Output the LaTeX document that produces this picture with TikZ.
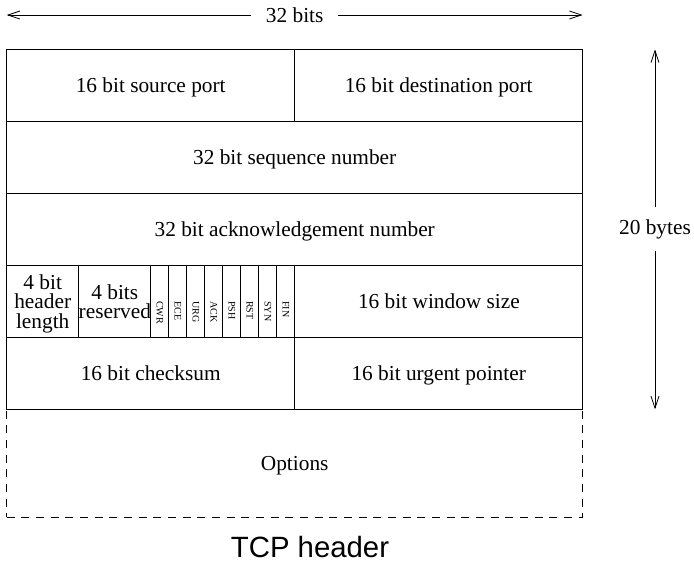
\documentclass[tikz,border=0pt]{standalone}
\usepackage{graphicx}
\usepackage{fontspec}
\setmainfont{Liberation Serif}
\newfontfamily\capfont{Liberation Sans}
\usetikzlibrary{positioning}
\usetikzlibrary{arrows.meta}

\tikzset{
  field/.style={draw, line width=0.8pt, outer sep=0pt, inner sep=0pt, text depth=0pt,
    minimum height=54pt, align=center, font=\fontsize{16}{14.5}\selectfont},
  half/.style={field, minimum width=216pt},
  full/.style={field, minimum width=432pt},
  quarter/.style={field, minimum width=54pt},
  flag/.style={field, minimum width=13.5pt, font=\fontsize{7.5}{8}\selectfont},
  dimarrow/.style={line width=0.6pt, -{Straight Barb[length=9pt,width=6pt]}},
  dimlabel/.style={font=\fontsize{16}{18}\selectfont, inner xsep=11pt, inner ysep=9pt}
}

\begin{document}
\begin{tikzpicture}[x=0.75pt,y=0.75pt,yscale=-1,xscale=1]
\useasboundingbox (0,0) rectangle (694,562);

%Fields: first word
\node [half, anchor=north west] (srcport) at (6.7,49.3) {16 bit source port};
\node [half, right=0pt of srcport] (dstport) {16 bit destination port};

%Fields: sequence and acknowledgement
\node [full, below=0pt of srcport.south west, anchor=north west] (seqnum) {32 bit sequence number};
\node [full, below=0pt of seqnum] (acknum) {32 bit acknowledgement number};

%Fields: header length, reserved bits, flags, window
\node [quarter, below=0pt of acknum.south west, anchor=north west] (hlen) {4 bit\\header\\length};
\node [quarter, right=0pt of hlen] (resv) {4 bits\\reserved};
\foreach \f [remember=\f as \prev (initially resv)] in {CWR,ECE,URG,ACK,PSH,RST,SYN,FIN}
  \node [flag, right=0pt of \prev] (\f) {\rotatebox{-90}{\f}};
\node [half, right=0pt of FIN] (window) {16 bit window size};

%Fields: checksum and urgent pointer
\node [half, below=0pt of hlen.south west, anchor=north west] (checksum) {16 bit checksum};
\node [half, right=0pt of checksum] (urgent) {16 bit urgent pointer};

%Options (variable length)
\node [full, minimum height=81pt, dash pattern={on 6pt off 5pt},
  below=0pt of checksum.south west, anchor=north west] (options) {Options};
\draw [line width=0.8pt] (checksum.south west) -- (urgent.south east);

% Width arrow
\node [dimlabel] (bits) at (294.7,15) {32 bits};
\draw [dimarrow] (bits) -- (bits -| srcport.west);
\draw [dimarrow] (bits) -- (bits -| dstport.east);

% Height arrow
\node [dimlabel] (bytes) at (655,229) {20 bytes};
\draw [dimarrow] (bytes) -- (bytes |- srcport.north);
\draw [dimarrow] (bytes) -- (bytes |- checksum.south);

% Caption
\node [font=\capfont\fontsize{22}{26}\selectfont] (caption) at (310,547) {TCP header};

\end{tikzpicture}
\end{document}
